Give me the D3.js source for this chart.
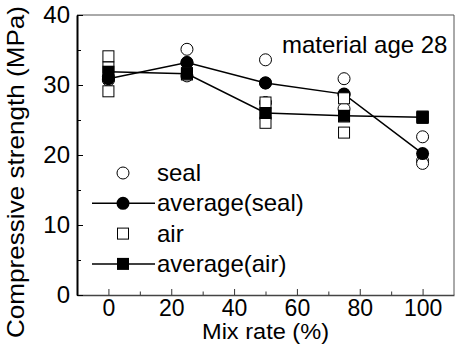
<!DOCTYPE html>
<html>
<head>
<meta charset="utf-8">
<script src="https://cdn.jsdelivr.net/npm/d3@7"></script>
<style>
  body { margin: 0; background: #fff; }
  text { font-family: "Liberation Sans", Arial, sans-serif; }
</style>
</head>
<body>
<div id="main"></div>
<script>
const mixRate = [0, 25, 50, 75, 100];
const seal = [[31.2, 30.8, 30.7], [35.1, 33.2, 31.3], [33.6, 30.3, 27.5], [30.9, 28.6, 26.6], [22.6, 19.2, 18.8]];
const avgSeal = [30.9, 33.2, 30.3, 28.7, 20.2];
const air = [[34.1, 32.5, 29.1], [31.7, 31.6, 31.5], [27.5, 25.9, 24.6], [28.1, 25.5, 23.2], [25.5, 25.4, 25.3]];
const avgAir = [31.9, 31.6, 26.0, 25.6, 25.4];
const xTicks = [0, 20, 40, 60, 80, 100];
const yTicks = [0, 10, 20, 30, 40];
const legendLabels = ["seal", "average(seal)", "air", "average(air)"];

const W = 455, H = 344;
const margin = { top: 15, right: 1, bottom: 49, left: 77 };

const svg = d3.select("#main").append("svg")
    .attr("width", W)
    .attr("height", H);

const x = d3.scaleLinear().domain([-10, 110]).range([margin.left, W - margin.right]);
const y = d3.scaleLinear().domain([0, 40]).range([H - margin.bottom, margin.top]);

// frame (top + right)
svg.append("path")
    .attr("d", `M${x(-10)},${y(40)}H${x(110)}V${y(0)}`)
    .attr("fill", "none")
    .attr("stroke", "#555")
    .attr("stroke-width", 1);

// minor ticks
svg.append("g")
    .attr("transform", `translate(0,${y(0)})`)
    .call(d3.axisBottom(x).tickValues(d3.range(10, 100, 20)).tickSize(-3.5).tickFormat(""))
    .call(g => g.select(".domain").remove())
    .selectAll("line").attr("stroke", "#333");
svg.append("g")
    .attr("transform", `translate(${x(-10)},0)`)
    .call(d3.axisLeft(y).tickValues([5, 15, 25, 35]).tickSize(-4).tickFormat(""))
    .call(g => g.select(".domain").remove());

// x axis
const gx = svg.append("g")
    .attr("transform", `translate(0,${y(0)})`)
    .call(d3.axisBottom(x).tickValues(xTicks).tickSizeInner(-6).tickSizeOuter(0).tickPadding(5));
gx.select(".domain").attr("stroke", "#444").attr("stroke-width", 1.5);
gx.selectAll("line").attr("stroke", "#333");
gx.selectAll("text").attr("font-size", 23).attr("fill", "#000");

// y axis
const gy = svg.append("g")
    .attr("transform", `translate(${x(-10)},0)`)
    .call(d3.axisLeft(y).tickValues(yTicks).tickSizeInner(-6).tickSizeOuter(0).tickPadding(7));
gy.select(".domain").attr("stroke", "#000").attr("stroke-width", 2);
gy.selectAll("text").attr("font-size", 24).attr("fill", "#000");

// axis titles
svg.append("text")
    .attr("x", (x(-10) + x(110)) / 2)
    .attr("y", 339)
    .attr("text-anchor", "middle")
    .attr("font-size", 22)
    .attr("textLength", 127)
    .attr("lengthAdjust", "spacingAndGlyphs")
    .text("Mix rate (%)");

svg.append("text")
    .attr("transform", `translate(24,${172}) rotate(-90)`)
    .attr("text-anchor", "middle")
    .attr("font-size", 24)
    .attr("textLength", 332)
    .attr("lengthAdjust", "spacingAndGlyphs")
    .text("Compressive strength (MPa)");

svg.append("text")
    .attr("x", 282)
    .attr("y", 53)
    .attr("font-size", 24)
    .text("material age 28");

const flat = (arr) => arr.flatMap((vals, i) => vals.map(v => ({ m: mixRate[i], v })));
const line = d3.line().x((d, i) => x(mixRate[i])).y(d => y(d));

// seal raw
svg.append("g").selectAll("circle")
    .data(flat(seal))
    .join("circle")
    .attr("cx", d => x(d.m))
    .attr("cy", d => y(d.v))
    .attr("r", 6)
    .attr("fill", "#fff")
    .attr("stroke", "#000")
    .attr("stroke-width", 1);

// average seal
svg.append("path")
    .datum(avgSeal)
    .attr("d", line)
    .attr("fill", "none")
    .attr("stroke", "#000")
    .attr("stroke-width", 1.5);
svg.append("g").selectAll("circle")
    .data(avgSeal)
    .join("circle")
    .attr("cx", (d, i) => x(mixRate[i]))
    .attr("cy", d => y(d))
    .attr("r", 6.5)
    .attr("fill", "#000");

// air raw
svg.append("g").selectAll("rect")
    .data(flat(air))
    .join("rect")
    .attr("x", d => x(d.m) - 5.5)
    .attr("y", d => y(d.v) - 5.5)
    .attr("width", 11)
    .attr("height", 11)
    .attr("fill", "#fff")
    .attr("stroke", "#000")
    .attr("stroke-width", 1);

// average air
svg.append("path")
    .datum(avgAir)
    .attr("d", line)
    .attr("fill", "none")
    .attr("stroke", "#000")
    .attr("stroke-width", 1.5);
svg.append("g").selectAll("rect")
    .data(avgAir)
    .join("rect")
    .attr("x", (d, i) => x(mixRate[i]) - 6)
    .attr("y", d => y(d) - 6)
    .attr("width", 12)
    .attr("height", 12)
    .attr("fill", "#000");

// legend
const leg = svg.append("g");
const lx = 123, ly0 = 173, step = 30.3;
legendLabels.forEach((lab, i) => {
    const cy = ly0 + i * step;
    if (i % 2 === 1) {
        leg.append("line")
            .attr("x1", 92).attr("x2", 155)
            .attr("y1", cy).attr("y2", cy)
            .attr("stroke", "#000").attr("stroke-width", 1.5);
    }
    if (i === 0) {
        leg.append("circle").attr("cx", lx).attr("cy", cy).attr("r", 6)
            .attr("fill", "#fff").attr("stroke", "#000");
    } else if (i === 1) {
        leg.append("circle").attr("cx", lx).attr("cy", cy).attr("r", 6.5).attr("fill", "#000");
    } else if (i === 2) {
        leg.append("rect").attr("x", lx - 5.5).attr("y", cy - 5.5).attr("width", 11).attr("height", 11)
            .attr("fill", "#fff").attr("stroke", "#000");
    } else {
        leg.append("rect").attr("x", lx - 6).attr("y", cy - 6).attr("width", 12).attr("height", 12).attr("fill", "#000");
    }
    leg.append("text")
        .attr("x", 157)
        .attr("y", cy + 8)
        .attr("font-size", 24)
        .text(lab);
});
</script>
</body>
</html>
